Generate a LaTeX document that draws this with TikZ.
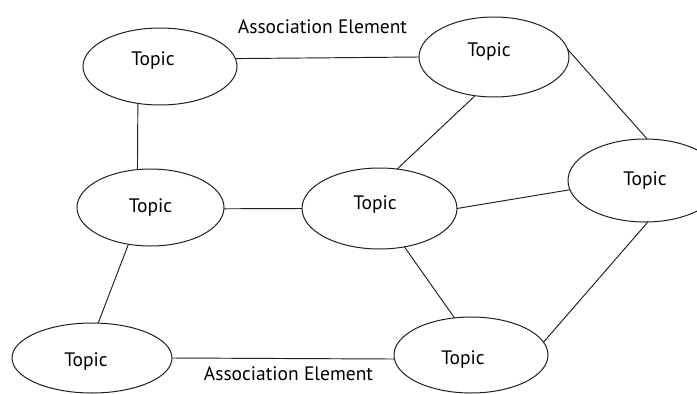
\documentclass[tikz,border=0pt]{standalone}
\usepackage{fontspec}
\setmainfont{PT Sans}
\usetikzlibrary{shapes.geometric}
\begin{document}
\begin{tikzpicture}[x=1pt,y=-1pt,
  topic/.style={draw=black!88, line width=1pt, ellipse, inner sep=0pt, outer sep=0pt},
  link/.style={draw=black!88, line width=0.95pt},
  lbl/.style={font=\fontsize{19.5}{22}\selectfont, text=black, inner sep=0pt},
  ttl/.style 2 args={label={[lbl, shift={(#1,#2)}]center:Topic}}]
  % page frame
  \clip (0,0) rectangle (697,394);
  % topics
  \node[topic, minimum width=154pt, minimum height=77pt, ttl={-7}{-6}] (t1) at (160,66.5) {};
  \node[topic, minimum width=150pt, minimum height=80pt, ttl={-5}{-5}] (t2) at (494,57) {};
  \node[topic, minimum width=147pt, minimum height=77pt, ttl={0}{0}] (t3) at (150.5,207.5) {};
  \node[topic, minimum width=155pt, minimum height=81pt, ttl={-4.5}{-3.5}] (t4) at (379.5,208.5) {};
  \node[topic, minimum width=154pt, minimum height=83pt, ttl={0}{0}] (t5) at (645,180.5) {};
  \node[topic, minimum width=160pt, minimum height=70pt, ttl={-6}{4}] (t6) at (92,358) {};
  \node[topic, minimum width=154pt, minimum height=76pt, ttl={-8}{5}] (t7) at (471,355) {};
  % associations
  \draw[link] (t1.6) -- (t2.180);
  \draw[link] (t1.239) -- (t3.109);
  \draw[link] (t2.244.6) -- (t4.66.4);
  \draw[link] (t2.6) -- (t5.87);
  \draw[link] (t3.359) -- (t4.180);
  \draw[link] (t4.0) -- (t5.187);
  \draw[link] (t4.303.5) -- (t7.114);
  \draw[link] (t5.274) -- (t7.10.7);
  \draw[link] (t3.239.7) -- (t6.80.3);
  \draw[link] (t6.0.7) -- (t7.183);
  % association labels
  \node[lbl, anchor=base] (a1) at (322.5,33) {Association Element};
  \node[lbl, anchor=base] (a2) at (288.5,380) {Association Element};
\end{tikzpicture}
\end{document}
